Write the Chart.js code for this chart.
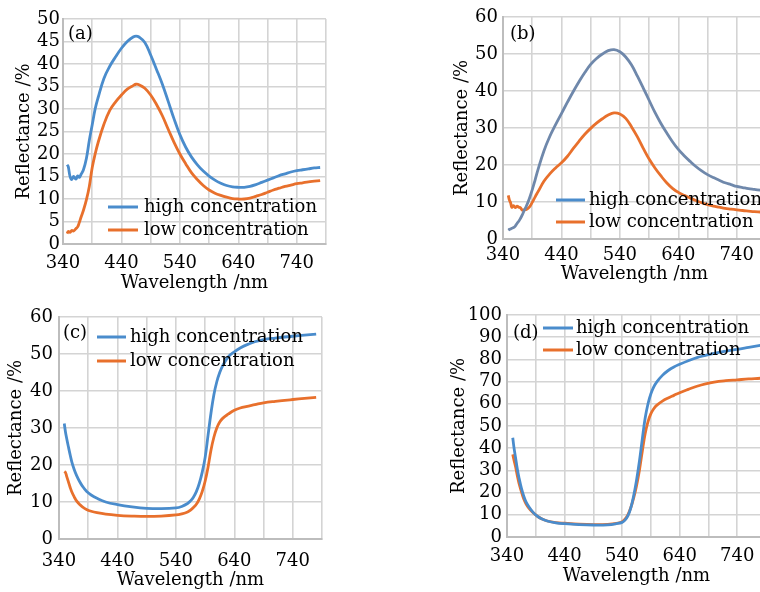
<!DOCTYPE html>
<html>
<head>
<meta charset="utf-8">
<title>Reflectance spectra</title>
<script src="https://cdn.jsdelivr.net/npm/chart.js@4.4.1/dist/chart.umd.min.js"></script>
<style>
  html, body { margin: 0; padding: 0; background: #fff; }
  body { width: 760px; height: 592px; overflow: hidden; position: relative; }
  canvas { position: absolute; }
</style>
</head>
<body>
<canvas id="chart-a" width="380" height="296" style="left:0;top:0"></canvas>
<canvas id="chart-b" width="400" height="296" style="left:380px;top:0"></canvas>
<canvas id="chart-c" width="380" height="296" style="left:0;top:296px"></canvas>
<canvas id="chart-d" width="400" height="296" style="left:380px;top:296px"></canvas>
<script>
// Shared axis ticks (grid every 50 nm, labels every 100 nm)
const waveTicks = [340, 390, 440, 490, 540, 590, 640, 690, 740, 790]
const waveLabels = [340, 440, 540, 640, 740]
const seriesNames = ["high concentration", "low concentration"]

// Panel (a)
const aTicksY = [0, 5, 10, 15, 20, 25, 30, 35, 40, 45, 50]
const aWave = [347, 349, 352, 355, 358, 362, 365, 368, 371, 375, 380, 385, 390, 395, 400, 410, 420, 430, 440, 450, 460, 465, 470, 480, 490, 500, 510, 520, 530, 540, 550, 560, 570, 580, 590, 600, 610, 620, 630, 640, 650, 660, 670, 680, 690, 700, 710, 720, 730, 740, 750, 760, 770, 780]
const aHigh = [17.6, 17.2, 15.0, 14.3, 15.0, 14.4, 15.1, 14.8, 15.5, 16.5, 19.0, 23.0, 26.5, 30.0, 32.5, 36.8, 39.5, 41.6, 43.5, 45.0, 46.0, 46.2, 46.0, 44.8, 42.0, 38.8, 35.5, 31.7, 27.8, 24.3, 21.5, 19.3, 17.6, 16.2, 15.1, 14.2, 13.5, 13.0, 12.7, 12.6, 12.6, 12.8, 13.2, 13.7, 14.2, 14.7, 15.2, 15.6, 16.0, 16.3, 16.5, 16.7, 16.9, 17.0]
const aLow = [2.3, 2.8, 2.6, 3.0, 2.9, 3.4, 3.8, 4.8, 6.0, 7.5, 9.8, 12.8, 17.0, 20.0, 22.5, 26.6, 29.7, 31.6, 33.1, 34.4, 35.2, 35.5, 35.4, 34.6, 33.1, 31.0, 28.5, 25.5, 22.6, 20.0, 17.8, 15.8, 14.3, 13.0, 12.0, 11.3, 10.8, 10.4, 10.1, 10.0, 10.0, 10.2, 10.6, 11.0, 11.5, 12.0, 12.4, 12.8, 13.1, 13.4, 13.6, 13.8, 13.95, 14.1]

// Panel (b)
const bTicksY = [0, 10, 20, 30, 40, 50, 60]
const bWave = [349, 351, 353, 355, 358, 361, 364, 367, 370, 373, 376, 380, 385, 390, 395, 400, 410, 420, 430, 440, 450, 460, 470, 480, 490, 500, 510, 520, 530, 540, 550, 560, 570, 580, 590, 600, 610, 620, 630, 640, 650, 660, 670, 680, 690, 700, 710, 720, 730, 740, 750, 760, 770, 780, 790]
const bHigh = [2.4, 2.6, 2.7, 2.9, 3.1, 3.5, 4.2, 4.8, 5.6, 6.5, 7.6, 8.9, 10.9, 13.3, 16.0, 18.8, 23.8, 27.7, 30.9, 33.9, 36.9, 39.8, 42.5, 45.0, 47.2, 48.8, 50.0, 50.9, 51.2, 50.6, 49.2, 47.0, 44.0, 40.8, 37.5, 34.2, 31.3, 28.7, 26.3, 24.2, 22.5, 21.0, 19.6, 18.4, 17.4, 16.6, 15.9, 15.2, 14.7, 14.2, 13.9, 13.6, 13.4, 13.2, 13.0]
const bLow = [11.8, 10.5, 9.8, 8.6, 9.0, 8.5, 8.9, 8.6, 8.4, 7.8, 7.9, 8.0, 8.6, 9.9, 11.4, 12.8, 15.6, 17.6, 19.2, 20.6, 22.3, 24.4, 26.4, 28.3, 29.9, 31.3, 32.5, 33.5, 34.1, 33.8, 32.6, 30.3, 27.6, 24.5, 21.6, 19.2, 17.1, 15.2, 13.7, 12.6, 11.8, 11.1, 10.4, 9.8, 9.3, 8.9, 8.6, 8.3, 8.1, 7.9, 7.7, 7.55, 7.4, 7.3, 7.2]

// Panel (c)
const cTicksY = [0, 10, 20, 30, 40, 50, 60]
const cWave = [349, 351, 353, 356, 359, 362, 366, 370, 375, 380, 387, 395, 405, 420, 440, 465, 490, 515, 540, 550, 560, 565, 570, 575, 580, 585, 590, 595, 600, 605, 610, 615, 620, 630, 640, 650, 660, 675, 690, 710, 740, 760, 780]
const cHigh = [31.2, 29.0, 27.3, 25.0, 22.8, 20.8, 18.8, 17.2, 15.6, 14.3, 12.9, 11.9, 11.0, 10.0, 9.3, 8.7, 8.3, 8.2, 8.4, 8.8, 9.6, 10.3, 11.3, 12.8, 15.0, 18.0, 22.0, 28.0, 34.0, 39.0, 42.5, 45.0, 46.8, 49.3, 50.6, 51.6, 52.4, 53.3, 53.9, 54.3, 54.8, 55.1, 55.4]
const cLow = [18.2, 18.0, 17.0, 15.5, 14.0, 12.7, 11.4, 10.3, 9.4, 8.7, 8.0, 7.5, 7.1, 6.7, 6.4, 6.2, 6.1, 6.2, 6.5, 6.8, 7.3, 7.8, 8.5, 9.4, 10.8, 12.8, 15.6, 19.4, 24.0, 27.5, 30.0, 31.6, 32.6, 33.8, 34.8, 35.4, 35.8, 36.3, 36.8, 37.2, 37.7, 38.0, 38.3]

// Panel (d)
const dTicksY = [0, 10, 20, 30, 40, 50, 60, 70, 80, 90, 100]
const dWave = [350, 352, 355, 358, 361, 365, 369, 373, 378, 385, 392, 400, 410, 425, 440, 465, 490, 515, 530, 540, 545, 550, 555, 560, 565, 570, 575, 580, 585, 590, 595, 600, 610, 620, 630, 640, 655, 670, 685, 700, 720, 740, 760, 780, 790]
const dHigh = [44.7, 40.5, 35.5, 30.5, 26.5, 22.0, 18.5, 15.8, 13.6, 11.2, 9.5, 8.2, 7.2, 6.4, 6.0, 5.6, 5.4, 5.5, 6.0, 6.6, 7.6, 9.5, 13.0, 18.5, 25.5, 34.0, 44.0, 53.5, 60.0, 64.5, 67.6, 69.8, 72.8, 75.0, 76.6, 77.8, 79.4, 80.8, 81.8, 82.7, 83.7, 84.5, 85.4, 86.3, 86.7]
const dLow = [37.2, 34.8, 31.5, 27.5, 24.0, 20.5, 17.2, 15.0, 13.0, 11.0, 9.5, 8.2, 7.2, 6.5, 6.2, 5.8, 5.6, 5.7, 6.1, 6.9, 8.0, 10.0, 13.2, 17.5, 23.0, 30.0, 38.5, 46.5, 52.0, 55.6, 57.8, 59.3, 61.2, 62.6, 63.8, 65.0, 66.5, 67.9, 69.0, 69.8, 70.4, 70.8, 71.2, 71.5, 71.7]

// Styling
const BLUE = "#4a8ccc"
const SLATE = "#6f88ab"
const ORANGE = "#e8702c"
const GRID = "#d4d4d4"
const AXIS = "#bdbdbd"
const INK = "#000000"
const FONT = { family: "'DejaVu Serif', serif", size: 18 }

function pairs(xs, ys) {
  return xs.map((x, i) => ({ x: x, y: ys[i] }))
}

// Draws the panel tag and the in-plot legend at fixed canvas positions
const panelDecor = {
  id: "panelDecor",
  afterDatasetsDraw(chart, args, opts) {
    const ctx = chart.ctx
    ctx.save()
    ctx.font = FONT.size + "px " + FONT.family
    ctx.textBaseline = "middle"
    ctx.fillStyle = INK
    ctx.fillText(opts.tag, opts.tagX, opts.tagY)
    chart.data.datasets.forEach((ds, i) => {
      const y = opts.legendY + i * opts.legendGap
      ctx.strokeStyle = ds.legendColor || ds.borderColor
      ctx.lineWidth = 3
      ctx.beginPath()
      ctx.moveTo(opts.legendX, y)
      ctx.lineTo(opts.legendX + opts.lineLen, y)
      ctx.stroke()
      ctx.fillText(ds.label, opts.legendX + opts.lineLen + opts.textGap, y)
    })
    ctx.restore()
  },
}

function buildPanel(id, p) {
  const line = {
    showLine: true,
    pointRadius: 0,
    borderWidth: 2.8,
    tension: 0.4,
  }
  return new Chart(document.getElementById(id), {
    type: "scatter",
    data: {
      datasets: [
        { ...line, label: seriesNames[0], data: pairs(p.wave, p.high), borderColor: p.highColor, legendColor: BLUE },
        { ...line, label: seriesNames[1], data: pairs(p.wave, p.low), borderColor: ORANGE },
      ],
    },
    options: {
      responsive: false,
      animation: false,
      layout: { padding: { top: p.pt, right: p.pr, left: 0, bottom: 0 } },
      scales: {
        x: {
          type: "linear",
          min: 340,
          max: 790,
          afterBuildTicks: (s) => { s.ticks = waveTicks.map((v) => ({ value: v })) },
          afterFit: (s) => { s.height = p.xh },
          ticks: {
            autoSkip: false,
            maxRotation: 0,
            padding: p.xTickPad,
            font: FONT,
            color: INK,
            callback: (v) => (waveLabels.includes(v) ? String(v) : ""),
          },
          grid: { color: GRID, lineWidth: 1.6, drawTicks: false },
          border: { color: AXIS, width: 2 },
          title: { display: true, text: "Wavelength /nm", font: FONT, color: INK, padding: { top: 0, bottom: p.xTitlePad } },
        },
        y: {
          min: 0,
          max: p.yTicks[p.yTicks.length - 1],
          afterBuildTicks: (s) => { s.ticks = p.yTicks.map((v) => ({ value: v })) },
          afterFit: (s) => { s.width = p.yw },
          ticks: { autoSkip: false, padding: p.yTickPad, font: FONT, color: INK },
          grid: { color: GRID, lineWidth: 1.6, drawTicks: false },
          border: { color: AXIS, width: 2 },
          title: { display: true, text: "Reflectance /%", font: FONT, color: INK, padding: { top: p.yTitlePad, bottom: 0 } },
        },
      },
      plugins: {
        legend: { display: false },
        tooltip: { enabled: false },
        panelDecor: p.decor,
      },
    },
    plugins: [panelDecor],
  })
}

buildPanel("chart-a", {
  wave: aWave, high: aHigh, low: aLow, yTicks: aTicksY, highColor: BLUE,
  pt: 19, pr: 54, yw: 63, xh: 52, xTickPad: 9, xTitlePad: 2, yTickPad: 3, yTitlePad: 14,
  decor: { tag: "(a)", tagX: 68, tagY: 34, legendX: 108, legendY: 207, legendGap: 23, lineLen: 30, textGap: 6 },
})

buildPanel("chart-b", {
  wave: bWave, high: bHigh, low: bLow, yTicks: bTicksY, highColor: SLATE,
  pt: 17, pr: 14, yw: 123, xh: 57, xTickPad: 6, xTitlePad: 11, yTickPad: 5, yTitlePad: 72,
  decor: { tag: "(b)", tagX: 130, tagY: 34, legendX: 176, legendY: 200, legendGap: 22, lineLen: 29, textGap: 4 },
})

buildPanel("chart-c", {
  wave: cWave, high: cHigh, low: cLow, yTicks: cTicksY, highColor: BLUE,
  pt: 21, pr: 58, yw: 59, xh: 53, xTickPad: 12, xTitlePad: 1, yTickPad: 6, yTitlePad: 6,
  decor: { tag: "(c)", tagX: 63, tagY: 37, legendX: 97, legendY: 41, legendGap: 24, lineLen: 29, textGap: 4 },
})

buildPanel("chart-d", {
  wave: dWave, high: dHigh, low: dLow, yTicks: dTicksY, highColor: BLUE,
  pt: 19, pr: 14, yw: 127, xh: 55, xTickPad: 9, xTitlePad: 5, yTickPad: 5, yTitlePad: 69,
  decor: { tag: "(d)", tagX: 133, tagY: 37, legendX: 163, legendY: 32, legendGap: 22, lineLen: 30, textGap: 3 },
})
</script>
</body>
</html>
